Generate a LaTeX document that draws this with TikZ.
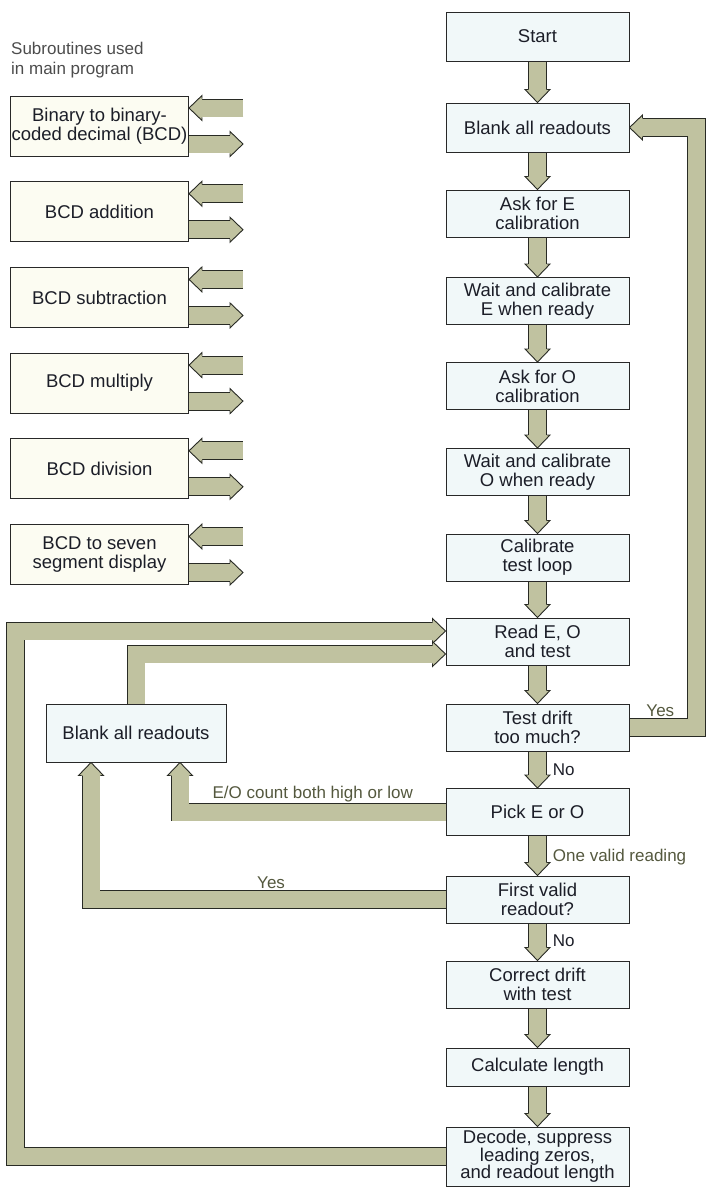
\documentclass[tikz,border=0pt]{standalone}
\usepackage{fontspec}
\setmainfont{Liberation Sans}
\usetikzlibrary{backgrounds}
\definecolor{bandfill}{RGB}{192, 194, 160}
\definecolor{bandline}{RGB}{40, 42, 36}
\definecolor{boxline}{RGB}{40, 40, 40}
\definecolor{flowfill}{RGB}{241, 248, 249}
\definecolor{subfill}{RGB}{252, 252, 242}
\definecolor{olivetext}{RGB}{84, 88, 62}
\definecolor{inktext}{RGB}{28, 30, 40}
\tikzset{
    flowbox/.style={draw=boxline, line width=1pt, fill=flowfill, text=inktext,
        minimum width=183pt, minimum height=47pt, inner sep=0pt, align=center,
        font=\fontsize{18.5}{19}\selectfont},
    subbox/.style={flowbox, fill=subfill, minimum width=178pt, minimum height=60pt},
    band/.style={draw=bandline, line width=0.9pt, double=bandfill, double distance=17pt},
    lbl/.style={text=olivetext, inner sep=0pt, font=\fontsize{17}{19}\selectfont},
    pics/fathead/.style={code={
        \filldraw[fill=bandfill, draw=bandline, line width=0.9pt]
            (-13pt, -9.4pt) -- (-13pt, -12.5pt) -- (0pt, 0pt) --
            (-13pt, 12.5pt) -- (-13pt, 9.4pt);
    }}
}

\begin{document}
\begin{tikzpicture}[x=1pt, y=-1pt]

    \useasboundingbox (0, 0) rectangle (707, 1187);

    % main program
    \node[flowbox, minimum height=49pt] (start) at (537.5, 36.5) {Start};
    \node[flowbox, minimum height=49pt] (blank) at (537.5, 127.5) {Blank all readouts};
    \node[flowbox] (askE) at (537.5, 213.5) {Ask for E\\calibration};
    \node[flowbox] (waitE) at (537.5, 301) {Wait and calibrate\\E when ready};
    \node[flowbox] (askO) at (537.5, 386) {Ask for O\\calibration};
    \node[flowbox] (waitO) at (537.5, 472) {Wait and calibrate\\O when ready};
    \node[flowbox] (calib) at (537.5, 557.5) {Calibrate\\test loop};
    \node[flowbox] (read) at (537.5, 641.5) {Read E, O\\and test};
    \node[flowbox] (drift) at (537.5, 727.5) {Test drift\\too much?};
    \node[flowbox] (pick) at (537.5, 812) {Pick E or O};
    \node[flowbox] (first) at (537.5, 899.5) {First valid\\readout?};
    \node[flowbox] (correct) at (537.5, 984.5) {Correct drift\\with test};
    \node[flowbox, minimum height=38pt] (calc) at (537.5, 1067) {Calculate length};
    \node[flowbox, minimum height=59pt, font=\fontsize{18.5}{17.5}\selectfont]
        (decode) at (537.5, 1156.5) {Decode, suppress\\leading zeros,\\and readout length};

    \node[flowbox, minimum width=180pt, minimum height=58pt] (blankL) at (136, 733)
        {Blank all readouts};

    % subroutines
    \node[anchor=west, align=left, inner sep=0pt, text=black!70,
        font=\fontsize{17}{20}\selectfont] (title) at (11, 60)
        {Subroutines used\\in main program};
    \foreach \txt [count=\i from 0] in {%
        {Binary to binary-\\coded decimal (BCD)}, {BCD addition}, {BCD subtraction},
        {BCD multiply}, {BCD division}, {BCD to seven\\segment display}} {%
        \node[subbox] (sub\i) at (99.5, 126+85.7*\i) {\txt};
    };

    \begin{scope}[on background layer]
        \foreach \i in {0,...,5} {%
            \draw[band] ([xshift=54pt, yshift=18pt]sub\i.east) --
                ([xshift=12pt, yshift=18pt]sub\i.east);
            \pic[rotate=180] at ([yshift=18pt]sub\i.east) {fathead};
            \draw[band] ([yshift=-18pt]sub\i.east) --
                ([xshift=42pt, yshift=-18pt]sub\i.east);
            \pic at ([xshift=54pt, yshift=-18pt]sub\i.east) {fathead};
        };

        \foreach \a/\b in {start/blank, blank/askE, askE/waitE, waitE/askO,
            askO/waitO, waitO/calib, calib/read, read/drift, correct/calc, calc/decode} {%
            \draw[band] (\a.south) -- ([yshift=12pt]\b.north);
            \pic[rotate=-90] at (\b.north) {fathead};
        };

        \draw[band] (drift.south) -- ([yshift=12pt]pick.north)
            node[lbl, pos=0.75, right=15pt, text=inktext] {No};
        \pic[rotate=-90] at (pick.north) {fathead};
        \draw[band] (pick.south) -- ([yshift=12pt]first.north)
            node[lbl, pos=0.75, right=15pt] {One valid reading};
        \pic[rotate=-90] at (first.north) {fathead};
        \draw[band] (first.south) -- ([yshift=12pt]correct.north)
            node[lbl, pos=0.7, right=15pt, text=inktext] {No};
        \pic[rotate=-90] at (correct.north) {fathead};

        % drift too much
        \draw[band] (drift.east) -| ([xshift=67pt]blank.east)
            node[lbl, pos=0.23, above=10pt] {Yes} -- ([xshift=12pt]blank.east);
        \pic[rotate=180] at (blank.east) {fathead};

        % back to read
        \coordinate (loopL) at (15.5, 631);
        \draw[band] (decode.west) -| (loopL) -- ([xshift=-12pt, yshift=10.5pt]read.west);
        \pic at ([yshift=10.5pt]read.west) {fathead};
        \draw[band] (blankL.north) |- ([xshift=-12pt, yshift=-12.5pt]read.west);
        \pic at ([yshift=-12.5pt]read.west) {fathead};

        \draw[band] (pick.west) -| ([xshift=44pt, yshift=-12pt]blankL.south)
            node[lbl, pos=0.25, above=10pt] {E/O count both high or low};
        \pic[rotate=90] at ([xshift=44pt]blankL.south) {fathead};
        \draw[band] (first.west) -| ([xshift=-45pt, yshift=-12pt]blankL.south)
            node[lbl, pos=0.246, above=10pt] {Yes};
        \pic[rotate=90] at ([xshift=-45pt]blankL.south) {fathead};
    \end{scope}

\end{tikzpicture}
\end{document}
